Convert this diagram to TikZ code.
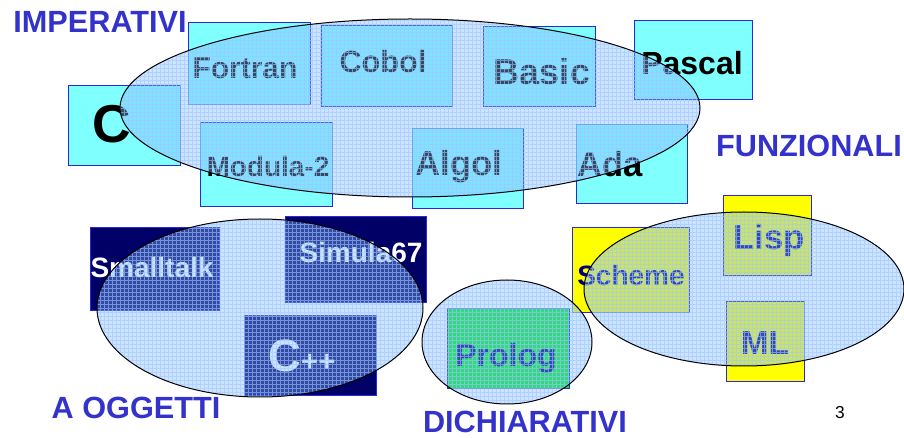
\documentclass[tikz,border=0pt]{standalone}
\usepackage{fontspec}
\setmainfont{Liberation Sans}

\definecolor{boxcyan}{RGB}{128,255,255}
\definecolor{boxnavy}{RGB}{0,0,102}
\definecolor{boxyellow}{RGB}{255,255,0}
\definecolor{boxgreen}{RGB}{0,235,40}
\definecolor{boxedge}{RGB}{40,40,220}
\definecolor{catblue}{RGB}{51,51,204}
\definecolor{setfill}{RGB}{127,187,255}
\definecolor{setgrid}{RGB}{160,198,255}
\definecolor{langnavy}{RGB}{0,0,128}

\tikzset{every picture/.style={line width=0.75pt}}
\tikzset{
  langbox/.style={draw=boxedge, line width=0.75pt},
  lang/.style={anchor=base, inner sep=0pt, font=\bfseries},
  category/.style={anchor=base, inner sep=0pt, text=catblue, font=\bfseries\fontsize{23}{23}\selectfont},
}
\newcommand{\fsz}[1]{\fontsize{#1}{#1}\selectfont}

\begin{document}
\begin{tikzpicture}[x=0.75pt,y=0.75pt,yscale=-1,xscale=1]
\useasboundingbox (0,0) rectangle (904,438);

%Shape: Rectangles, imperativi
\draw [langbox, fill=boxcyan] (68,86) rectangle (180,166);
\draw [langbox, fill=boxcyan] (188,23) rectangle (310,105);
\draw [langbox, fill=boxcyan] (321,26) rectangle (452,107);
\draw [langbox, fill=boxcyan] (483,27) rectangle (595,107);
\draw [langbox, fill=boxcyan] (634,21) rectangle (752,100);
\draw [langbox, fill=boxcyan] (200,123) rectangle (332,207);
\draw [langbox, fill=boxcyan] (412,129) rectangle (523,209);
\draw [langbox, fill=boxcyan] (576,125) rectangle (687,204);
%Shape: Rectangles, a oggetti
\draw [langbox, fill=boxnavy] (90,228) rectangle (219,311);
\draw [langbox, fill=boxnavy] (285,217) rectangle (426,303);
\draw [langbox, fill=boxnavy] (244,316) rectangle (376,396);
%Shape: Rectangles, dichiarativi e funzionali
\draw [langbox, fill=boxgreen] (447,309) rectangle (569,389);
\draw [langbox, fill=boxyellow] (572,228) rectangle (689,313);
\draw [langbox, fill=boxyellow] (723,196) rectangle (811,276);
\draw [langbox, fill=boxyellow] (726,302) rectangle (804,382);

% Text Node
\node (c) [lang, font=\bfseries\fsz{40}] at (112,143) {C};
\node (fortran) [lang, font=\bfseries\fsz{22.5}] at (245,79) {Fortran};
\node (cobol) [lang, font=\bfseries\fsz{23}] at (383,73) {Cobol};
\node (basic) [lang, font=\bfseries\fsz{27}] at (542,85) {Basic};
\node (pascal) [lang, font=\bfseries\fsz{24}] at (692,75) {Pascal};
\node (modula) [lang, font=\bfseries\fsz{21}] at (268,177) {Modula-2};
\node (algol) [lang, font=\bfseries\fsz{26}] at (459,176) {Algol};
\node (ada) [lang, font=\bfseries\fsz{26}] at (610,177) {Ada};
% Text Node
\node (smalltalk) [lang, text=white, font=\bfseries\fsz{21}] at (152,278) {Smalltalk};
\node (simula) [lang, text=white, font=\bfseries\fsz{21}] at (361,263) {Simula67};
\node (cpp) [lang, text=white] at (302,372) {\fsz{34}C\fsz{22}++};
% Text Node
\node (prolog) [lang, text=langnavy, font=\bfseries\fsz{24}] at (506,367) {Prolog};
\node (scheme) [lang, text=langnavy, font=\bfseries\fsz{21}] at (631,286) {Scheme};
\node (lisp) [lang, text=langnavy, font=\bfseries\fsz{26}] at (769,250) {Lisp};
\node (ml) [lang, text=langnavy, font=\bfseries\fsz{25}] at (765,355) {ML};

%Shape: Ellipses with grid fill
\foreach \cx/\cy/\rx/\ry in {410/108/290/89, 260/308/163/89, 507/342/85/62, 744/289/160/77}{
  \begin{scope}
    \clip (\cx,\cy) ellipse [x radius=\rx, y radius=\ry];
    \fill [setfill, fill opacity=0.4] (\cx-\rx,\cy-\ry) rectangle (\cx+\rx,\cy+\ry);
    \draw [setgrid, line width=0.45pt, draw opacity=0.6, step=3pt] (\cx-\rx,\cy-\ry) grid (\cx+\rx,\cy+\ry);
  \end{scope}
  \draw (\cx,\cy) ellipse [x radius=\rx, y radius=\ry];
}

% Text Node
\node (imperativi) [category] at (100,33) {IMPERATIVI};
\node (funzionali) [category] at (809,157) {FUNZIONALI};
\node (oggetti) [category] at (136,419) {A OGGETTI};
\node (dichiarativi) [category] at (525,432) {DICHIARATIVI};
\node (page) [anchor=base, inner sep=0pt, font=\fsz{13}] at (840,419) {3};

\end{tikzpicture}
\end{document}
